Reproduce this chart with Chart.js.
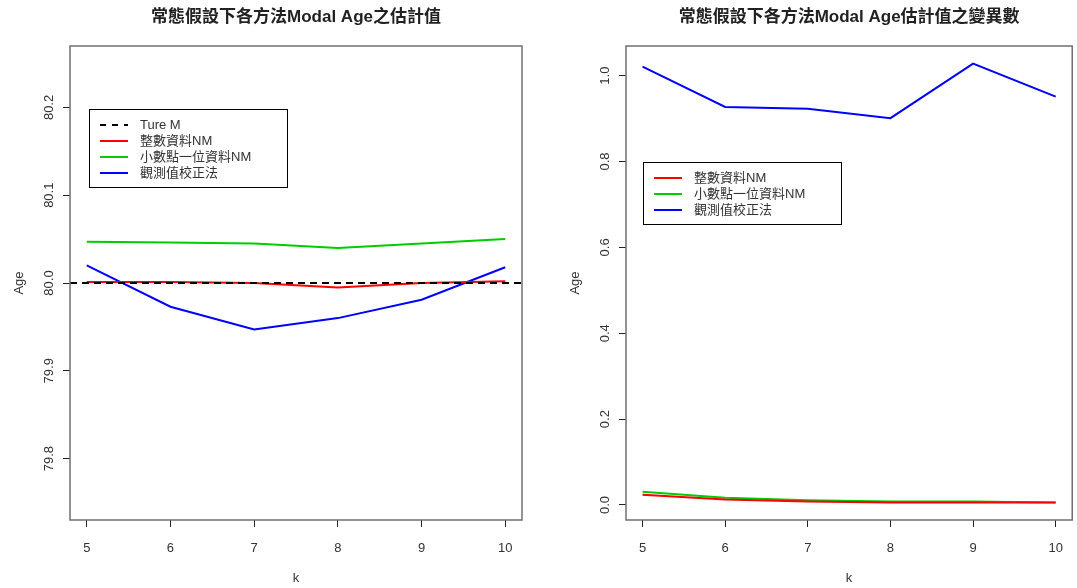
<!DOCTYPE html>
<html>
<head>
<meta charset="utf-8">
<script src="https://cdn.jsdelivr.net/npm/chart.js"></script>
<style>
  body { margin: 0; background: #fff; }
  #wrap { position: relative; width: 1077px; height: 588px; }
  canvas { position: absolute; top: 0; }
</style>
</head>
<body>
<div id="wrap">
  <canvas id="left" width="538" height="588" style="left:0"></canvas>
  <canvas id="right" width="539" height="588" style="left:538px"></canvas>
</div>
<script>
// k 値
const kValues = [5, 6, 7, 8, 9, 10];

// 左: Modal Age 估計値
const trueM = 80.0;
const meanInt = [80.001, 80.001, 80.000, 79.995, 80.000, 80.002];
const meanDec = [80.047, 80.046, 80.045, 80.040, 80.045, 80.050];
const meanObs = [80.020, 79.973, 79.947, 79.960, 79.981, 80.018];
const leftTicksY = [79.8, 79.9, 80.0, 80.1, 80.2];

// 右: 變異數
const varInt = [0.024, 0.013, 0.008, 0.006, 0.006, 0.006];
const varDec = [0.031, 0.017, 0.011, 0.008, 0.008, 0.006];
const varObs = [1.021, 0.927, 0.923, 0.901, 1.028, 0.951];
const rightTicksY = [0.0, 0.2, 0.4, 0.6, 0.8, 1.0];

const labelInt = '整數資料NM';
const labelDec = '小數點一位資料NM';
const labelObs = '觀測值校正法';

const FONT = '"Liberation Sans", Arial, "Noto Sans CJK TC", sans-serif';
const RED = '#ff0000', GREEN = '#00cc00', BLUE = '#0000ff';

const pts = ys => kValues.map((k, i) => ({ x: k, y: ys[i] }));

// R 風の枠・回転した y 目盛・凡例を描くプラグイン
const rStyle = {
  id: 'rStyle',
  afterDatasetsDraw(chart, args, opts) {
    const ctx = chart.ctx;
    const area = chart.chartArea;
    if (opts.hline !== undefined) {
      const y = chart.scales.y.getPixelForValue(opts.hline);
      ctx.save();
      ctx.strokeStyle = '#000';
      ctx.lineWidth = 2;
      ctx.setLineDash([7, 5]);
      ctx.beginPath();
      ctx.moveTo(area.left, y);
      ctx.lineTo(area.right, y);
      ctx.stroke();
      ctx.restore();
    }
  },
  afterDraw(chart, args, opts) {
    const ctx = chart.ctx;
    const area = chart.chartArea;
    const ys = chart.scales.y;
    ctx.save();
    // 枠
    ctx.strokeStyle = '#707070';
    ctx.lineWidth = 1.5;
    ctx.strokeRect(area.left, area.top, area.right - area.left, area.bottom - area.top);

    // y 目盛ラベル (回転)
    ctx.fillStyle = '#333';
    ctx.font = '13px ' + FONT;
    ctx.textAlign = 'center';
    ctx.textBaseline = 'middle';
    ys.ticks.forEach(t => {
      const y = ys.getPixelForValue(t.value);
      ctx.save();
      ctx.translate(area.left - 21, y);
      ctx.rotate(-Math.PI / 2);
      ctx.fillText(t.value.toFixed(1), 0, 0);
      ctx.restore();
    });

    // 軸タイトル
    ctx.font = '13px ' + FONT;
    ctx.save();
    ctx.translate(area.left - 51, (area.top + area.bottom) / 2);
    ctx.rotate(-Math.PI / 2);
    ctx.fillText('Age', 0, 0);
    ctx.restore();
    ctx.fillText('k', (area.left + area.right) / 2, 578);

    // タイトル
    ctx.fillStyle = '#222';
    ctx.font = 'bold 17px ' + FONT;
    ctx.fillText(opts.title, (area.left + area.right) / 2, 17);

    // 凡例
    const lg = opts.legend;
    ctx.strokeStyle = '#000';
    ctx.lineWidth = 1;
    ctx.strokeRect(lg.x + 0.5, lg.y + 0.5, lg.w, lg.h);
    ctx.font = '13px ' + FONT;
    ctx.textAlign = 'left';
    lg.items.forEach((it, i) => {
      const y = lg.y + 16 + i * 16;
      ctx.strokeStyle = it.color;
      ctx.lineWidth = 2;
      ctx.setLineDash(it.dash || []);
      ctx.beginPath();
      ctx.moveTo(lg.x + 11, y);
      ctx.lineTo(lg.x + 39, y);
      ctx.stroke();
      ctx.setLineDash([]);
      ctx.fillStyle = '#333';
      ctx.fillText(it.text, lg.x + 51, y);
    });
    ctx.restore();
  }
};

function lineDs(label, ys, color) {
  return {
    label, data: pts(ys), borderColor: color, backgroundColor: color,
    borderWidth: 2, pointRadius: 0, tension: 0, fill: false
  };
}

function makeChart(id, cfg) {
  return new Chart(document.getElementById(id).getContext('2d'), {
    type: 'line',
    data: { datasets: cfg.datasets },
    plugins: [rStyle],
    options: {
      responsive: false,
      animation: false,
      layout: { padding: { top: 46, right: cfg.padRight, left: 0, bottom: 0 } },
      plugins: {
        legend: { display: false },
        tooltip: { enabled: false },
        rStyle: { title: cfg.title, legend: cfg.legend, hline: cfg.hline }
      },
      scales: {
        x: {
          type: 'linear', min: 4.8, max: 10.2,
          afterBuildTicks: s => { s.ticks = kValues.map(v => ({ value: v })); },
          afterFit: s => { s.height = 68; },
          grid: { drawOnChartArea: false, drawTicks: true, tickLength: 7, color: '#222' },
          border: { display: false },
          ticks: { color: '#333', font: { size: 13, family: FONT }, padding: 14, maxRotation: 0 }
        },
        y: {
          type: 'linear', min: cfg.yMin, max: cfg.yMax,
          afterBuildTicks: s => { s.ticks = cfg.yTicks.map(v => ({ value: v })); },
          afterFit: s => { s.width = cfg.yWidth; },
          grid: { drawOnChartArea: false, drawTicks: true, tickLength: 7, color: '#222' },
          border: { display: false },
          ticks: { color: 'rgba(0,0,0,0)', font: { size: 12 } }
        }
      }
    }
  });
}

makeChart('left', {
  title: '常態假設下各方法Modal Age之估計值',
  datasets: [
    lineDs(labelInt, meanInt, RED),
    lineDs(labelDec, meanDec, GREEN),
    lineDs(labelObs, meanObs, BLUE)
  ],
  hline: trueM,
  yMin: 79.73, yMax: 80.27, yTicks: leftTicksY,
  yWidth: 70, padRight: 16,
  legend: {
    x: 89, y: 109, w: 198, h: 78,
    items: [
      { text: 'Ture M', color: '#000', dash: [6, 6] },
      { text: labelInt, color: RED },
      { text: labelDec, color: GREEN },
      { text: labelObs, color: BLUE }
    ]
  }
});

makeChart('right', {
  title: '常態假設下各方法Modal Age估計值之變異數',
  datasets: [
    lineDs(labelInt, varInt, RED),
    lineDs(labelDec, varDec, GREEN),
    lineDs(labelObs, varObs, BLUE)
  ],
  yMin: -0.035, yMax: 1.069, yTicks: rightTicksY,
  yWidth: 88, padRight: 2,
  legend: {
    x: 105, y: 162, w: 198, h: 62,
    items: [
      { text: labelInt, color: RED },
      { text: labelDec, color: GREEN },
      { text: labelObs, color: BLUE }
    ]
  }
});
</script>
</body>
</html>
